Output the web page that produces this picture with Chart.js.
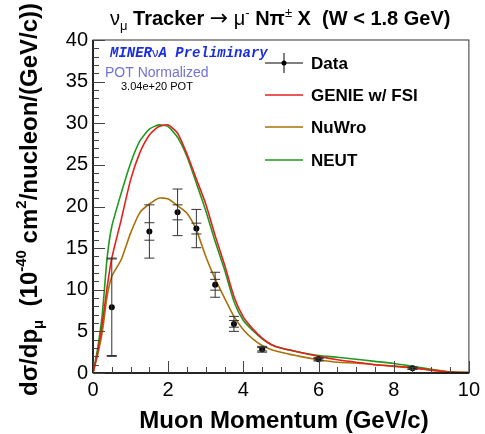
<!DOCTYPE html>
<html>
<head>
<meta charset="utf-8">
<script src="https://cdn.jsdelivr.net/npm/chart.js@4/dist/chart.umd.min.js"></script>
<style>body{margin:0;background:#fff}</style>
</head>
<body>
<canvas id="grafico" width="485" height="434"></canvas>
<script>
// valores
const momentum = [0, 0.125, 0.25, 0.375, 0.5, 0.75, 1, 1.25, 1.5, 1.75, 2, 2.25, 2.5, 2.75, 3, 3.25, 3.5, 3.75, 4, 4.25, 4.5, 4.75, 5, 5.5, 6, 6.5, 7, 7.5, 8, 8.5, 9, 9.5, 10]
const genie = [0, 2.5, 6.0, 10.3, 13.8, 18.4, 23.2, 26.5, 28.6, 29.6, 29.8, 28.8, 26.3, 23.3, 20.3, 16.5, 13.0, 9.2, 6.7, 5.3, 4.2, 3.4, 3.0, 2.5, 2.0, 1.6, 1.3, 1.0, 0.85, 0.65, 0.35, 0.1, 0.05]
const nuwro = [0, 2.2, 5.0, 9.2, 11.6, 13.6, 16.8, 19.3, 20.3, 21.0, 20.9, 20.1, 19.2, 17.2, 14.0, 11.3, 9.0, 6.8, 5.2, 4.1, 3.3, 2.8, 2.5, 2.0, 1.6, 1.3, 1.2, 1.0, 0.8, 0.6, 0.35, 0.12, 0.05]
const neut = [0, 3.0, 7.2, 13.8, 17.6, 21.6, 25.2, 27.9, 29.3, 29.8, 29.6, 28.3, 26.0, 22.8, 19.5, 15.8, 12.4, 8.6, 6.3, 5.1, 4.1, 3.4, 3.0, 2.5, 2.1, 1.9, 1.65, 1.4, 1.15, 0.8, 0.45, 0.1, 0.05]

const dataP = [0.5, 1.5, 2.25, 2.75, 3.25, 3.75, 4.5, 6, 8.5]
const dataXsec = [7.9, 17.0, 19.3, 17.35, 10.6, 5.9, 2.85, 1.65, 0.57]
const errTotal = [5.9, 3.2, 2.8, 2.3, 1.5, 0.9, 0.35, 0.2, 0.15]
const errStat = [5.8, 1.05, 0.9, 0.65, 0.65, 0.4, 0.2, 0.1, 0.08]

const labels = ['Data', 'GENIE w/ FSI', 'NuWro', 'NEUT']
const cores = ['#000000', '#e4201c', '#a8720a', '#1e9b1e']

const fonte = '"Liberation Sans", Arial, sans-serif'

function pontos(xs, ys) { return xs.map((v, i) => ({x: v, y: ys[i]})) }

function texto(ctx, x, y, partes) {
    for (const p of partes) {
        ctx.font = p.f
        ctx.fillText(p.t, x, y + (p.dy || 0))
        x += ctx.measureText(p.t).width
    }
    return x
}

function linha(ctx, x1, y1, x2, y2) {
    ctx.beginPath(); ctx.moveTo(x1, y1); ctx.lineTo(x2, y2); ctx.stroke()
}

const moldura = {
    id: 'moldura',
    afterDatasetsDraw(chart) {
        const {ctx, scales: {x, y}} = chart
        ctx.save()
        ctx.strokeStyle = '#333'
        ctx.lineWidth = 1
        dataP.forEach((p, i) => {
            const px = x.getPixelForValue(p)
            const t = y.getPixelForValue(dataXsec[i] + errTotal[i])
            const b = y.getPixelForValue(Math.max(0, dataXsec[i] - errTotal[i]))
            linha(ctx, px, t, px, b)
            linha(ctx, px - 5, t, px + 5, t)
            linha(ctx, px - 5, b, px + 5, b)
            const st = y.getPixelForValue(dataXsec[i] + errStat[i])
            const sb = y.getPixelForValue(dataXsec[i] - errStat[i])
            linha(ctx, px - 5, st, px + 5, st)
            linha(ctx, px - 5, sb, px + 5, sb)
        })
        ctx.restore()
    },
    afterDraw(chart) {
        const {ctx, chartArea: a, scales: {x, y}} = chart
        ctx.save()
        // caixa
        ctx.strokeStyle = '#555'
        ctx.lineWidth = 1.2
        ctx.strokeRect(a.left, a.top, a.right - a.left, a.bottom - a.top)
        ctx.strokeStyle = '#000'
        ctx.lineWidth = 1.5
        linha(ctx, a.left, a.top, a.left, a.bottom)
        linha(ctx, a.left, a.bottom, a.right, a.bottom)
        // marcas
        ctx.strokeStyle = '#444'
        ctx.lineWidth = 1
        for (let v = 0; v <= 40; v += 1) {
            const py = Math.round(y.getPixelForValue(v)) + 0.5
            linha(ctx, a.left, py, a.left + (v % 5 == 0 ? 12 : 6), py)
        }
        for (let v = 0; v <= 10; v += 0.5) {
            const px = Math.round(x.getPixelForValue(v)) + 0.5
            linha(ctx, px, a.bottom, px, a.bottom - (v % 2 == 0 ? 12 : 6))
        }

        // título
        ctx.fillStyle = '#000'
        ctx.textBaseline = 'alphabetic'
        const n = '20px ' + fonte, b = 'bold 20px ' + fonte, s = '13px ' + fonte
        texto(ctx, 110, 25, [
            {t: 'ν', f: n}, {t: 'μ', f: s, dy: 5}, {t: ' Tracker ', f: b}, {t: '→', f: '22px "DejaVu Sans"'},
            {t: ' μ', f: n}, {t: '-', f: s, dy: -8}, {t: ' N', f: b}, {t: 'π', f: b},
            {t: '±', f: s, dy: -8}, {t: ' X  (W < 1.8 GeV)', f: b}
        ])

        // título eixo x
        ctx.font = 'bold 24px ' + fonte
        ctx.textAlign = 'center'
        ctx.fillText('Muon Momentum (GeV/c)', 284, 428)
        ctx.textAlign = 'left'

        // título eixo y
        ctx.save()
        ctx.translate(37, 396)
        ctx.rotate(-Math.PI / 2)
        const yb = 'bold 24px ' + fonte, ys = 'bold 15px ' + fonte
        texto(ctx, 0, 0, [
            {t: 'dσ/dp', f: yb}, {t: 'μ', f: ys, dy: 6}, {t: '  (10', f: yb}, {t: '-40', f: ys, dy: -11},
            {t: ' cm', f: yb}, {t: '2', f: ys, dy: -11}, {t: '/nucleon/(GeV/c))', f: yb}
        ])
        ctx.restore()

        // rótulos
        ctx.fillStyle = '#1a2ee0'
        const m = 'bold italic 14px "Liberation Mono", monospace'
        texto(ctx, 110, 57, [{t: 'MINER', f: m}, {t: 'ν', f: '13px ' + fonte}, {t: 'A Preliminary', f: m}])
        ctx.fillStyle = '#7272d6'
        ctx.font = '14px ' + fonte
        ctx.fillText('POT Normalized', 105, 77)
        ctx.fillStyle = '#000'
        ctx.font = '11px ' + fonte
        ctx.fillText('3.04e+20 POT', 121, 90)

        // legenda
        const ly = [63, 95, 127, 160]
        ctx.textBaseline = 'middle'
        ctx.font = 'bold 17px ' + fonte
        labels.forEach((l, i) => {
            ctx.strokeStyle = cores[i]
            ctx.lineWidth = i == 0 ? 1 : 1.6
            linha(ctx, 265, ly[i], 303, ly[i])
            if (i == 0) {
                linha(ctx, 284, ly[i] - 10, 284, ly[i] + 10)
                ctx.fillStyle = '#000'
                ctx.beginPath(); ctx.arc(284, ly[i], 2.5, 0, 2 * Math.PI); ctx.fill()
            }
            ctx.fillStyle = '#000'
            ctx.fillText(l, 311, ly[i] + 1)
        })
        ctx.restore()
    }
}

const ctx = document.getElementById('grafico')

const eixo = {
    type: 'linear',
    grid: {display: false, drawTicks: false},
    border: {display: false},
}

const graph = new Chart(ctx, {
    type: 'line',
    data: {
        datasets: [
            {label: labels[0], type: 'scatter', data: pontos(dataP, dataXsec), pointRadius: 3, pointBackgroundColor: '#000', pointBorderWidth: 0, showLine: false, order: 0},
            {label: labels[1], data: pontos(momentum, genie), borderColor: cores[1], borderWidth: 1.6, pointRadius: 0, tension: 0.2},
            {label: labels[2], data: pontos(momentum, nuwro), borderColor: cores[2], borderWidth: 1.6, pointRadius: 0, tension: 0.2},
            {label: labels[3], data: pontos(momentum, neut), borderColor: cores[3], borderWidth: 1.6, pointRadius: 0, tension: 0.2}
        ]
    },
    options: {
        responsive: false,
        animation: false,
        layout: {padding: {top: 40, right: 12}},
        plugins: {legend: {display: false}, tooltip: {enabled: false}},
        scales: {
            x: {...eixo, min: 0, max: 10,
                ticks: {stepSize: 2, color: '#000', padding: 5, maxRotation: 0, font: {size: 20, family: fonte}},
                afterFit(s) { s.height = 61 }},
            y: {...eixo, min: 0, max: 40,
                ticks: {stepSize: 5, color: '#000', padding: 5, font: {size: 20, family: fonte}},
                afterFit(s) { s.width = 93 }}
        }
    },
    plugins: [moldura]
})
</script>
</body>
</html>
